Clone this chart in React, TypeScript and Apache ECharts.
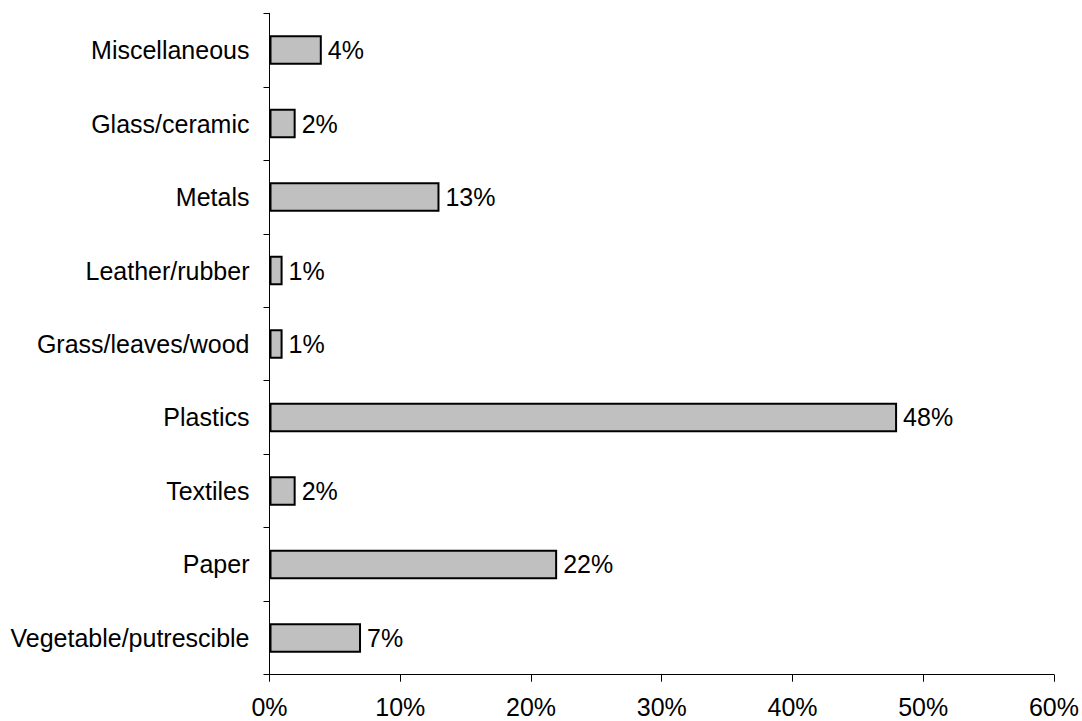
import React, { useEffect, useRef } from "react";
import * as echarts from "echarts";

const categories = [
  "Vegetable/putrescible",
  "Paper",
  "Textiles",
  "Plastics",
  "Grass/leaves/wood",
  "Leather/rubber",
  "Metals",
  "Glass/ceramic",
  "Miscellaneous",
];
const values = [7, 22, 2, 48, 1, 1, 13, 2, 4];
const xTicks = [0, 10, 20, 30, 40, 50, 60];

const FONT = "Liberation Sans, Arial, sans-serif";

export default function App() {
  const ref = useRef<HTMLDivElement>(null);
  useEffect(() => {
    document.body.style.margin = "0";
    const chart = echarts.init(ref.current!, null, { renderer: "svg" });
    chart.setOption({
      animation: false,
      backgroundColor: "#ffffff",
      textStyle: { fontFamily: FONT },
      grid: { left: 269.5, right: 26.5, top: 13.3, bottom: 46.3, containLabel: false },
      xAxis: {
        type: "value",
        min: xTicks[0],
        max: xTicks[xTicks.length - 1],
        interval: 10,
        splitLine: { show: false },
        axisLine: { show: true, lineStyle: { color: "#000", width: 1 } },
        axisTick: { show: true, length: 7, lineStyle: { color: "#000" } },
        axisLabel: {
          formatter: (v: number) => `${v}%`,
          color: "#000",
          fontSize: 25,
          margin: 20,
          fontFamily: FONT,
        },
      },
      yAxis: {
        type: "category",
        data: categories,
        axisLine: { show: true, lineStyle: { color: "#000", width: 1 } },
        axisTick: { show: true, length: 6, lineStyle: { color: "#000" } },
        axisLabel: {
          color: "#000",
          fontSize: 25,
          margin: 20,
          fontFamily: FONT,
        },
      },
      series: [
        {
          type: "bar",
          data: values,
          barCategoryGap: "60%",
          itemStyle: { color: "#c0c0c0", borderColor: "#000", borderWidth: 2 },
          label: {
            show: true,
            position: "right",
            distance: 6,
            formatter: (p: any) => `${p.value}%`,
            color: "#000",
            fontSize: 25,
            fontFamily: FONT,
          },
        },
      ],
    });
    return () => chart.dispose();
  }, []);
  return <div ref={ref} style={{ width: 1082, height: 721 }} />;
}
